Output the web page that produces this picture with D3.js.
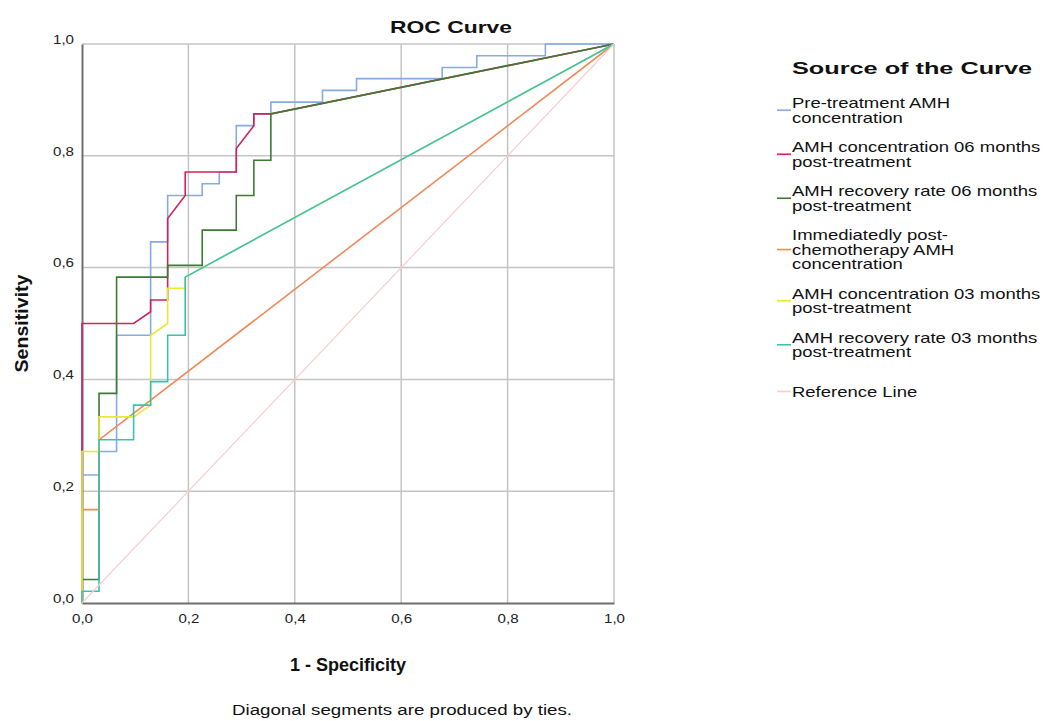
<!DOCTYPE html>
<html>
<head>
<meta charset="utf-8">
<script src="https://cdn.jsdelivr.net/npm/d3@7"></script>
<style>
  body { margin: 0; background: #fff; }
  text { font-family: "Liberation Sans", Arial, sans-serif; fill: #111; }
  .tick text { font-size: 12.5px; fill: #222; }
</style>
</head>
<body>
<div id="chart"></div>
<script>
// series names (legend order = draw order)
var seriesNames = [
  ["Pre-treatment AMH", "concentration"],
  ["AMH concentration 06 months", "post-treatment"],
  ["AMH recovery rate 06 months", "post-treatment"],
  ["Immediatedly post-", "chemotherapy AMH", "concentration"],
  ["AMH concentration 03 months", "post-treatment"],
  ["AMH recovery rate 03 months", "post-treatment"],
  ["Reference Line"]
];
var seriesColors = ["#86abe0", "#d3245a", "#3d7a34", "#f08a5a", "#e8e83c", "#3cc2ac", "#f7cdd0"];

// 1 - specificity values
var preFpr  = [0, 0, .032, .032, .065, .065, .129, .129, .161, .161, .226, .226, .258, .258, .290, .290, .323, .323, .355, .355, .452, .452, .516, .516, .677, .677, .742, .742, .871, .871, 1];
// sensitivity values
var preTpr  = [0, .229, .229, .271, .271, .479, .479, .646, .646, .729, .729, .750, .750, .771, .771, .854, .854, .875, .875, .896, .896, .917, .917, .938, .938, .958, .958, .979, .979, 1, 1];

var c06Fpr = [0, 0, .097, .129, .129, .161, .161, .194, .194, .290, .290, .323, .323, .355, 1];
var c06Tpr = [0, .500, .500, .521, .542, .542, .688, .729, .771, .771, .813, .854, .875, .875, 1];

var r06Fpr = [0, 0, .032, .032, .065, .065, .161, .161, .226, .226, .290, .290, .323, .323, .355, .355, 1];
var r06Tpr = [0, .042, .042, .375, .375, .583, .583, .604, .604, .667, .667, .729, .729, .792, .792, .875, 1];

var immFpr = [0, 0, .032, .032, 1];
var immTpr = [0, .167, .167, .292, 1];

var c03Fpr = [0, 0, .032, .032, .097, .129, .129, .161, .161, .194, .194, 1];
var c03Tpr = [0, .271, .271, .333, .333, .354, .479, .500, .563, .563, .583, 1];

var r03Fpr = [0, 0, .032, .032, .097, .097, .129, .129, .161, .161, .194, .194, 1];
var r03Tpr = [0, .021, .021, .292, .292, .354, .354, .396, .396, .479, .479, .583, 1];

var refFpr = [0, 1];
var refTpr = [0, 1];

var tickValues = [0, 0.2, 0.4, 0.6, 0.8, 1.0];

var fprList = [preFpr, c06Fpr, r06Fpr, immFpr, c03Fpr, r03Fpr, refFpr];
var tprList = [preTpr, c06Tpr, r06Tpr, immTpr, c03Tpr, r03Tpr, refTpr];

var svgWidth = 1048;
var svgHeight = 721;
var margin = { top: 44, left: 82 };
var width = 532;
var height = 559;

var svg = d3.select("#chart")
  .append("svg")
  .attr("width", svgWidth)
  .attr("height", svgHeight);

svg.append("rect").attr("width", svgWidth).attr("height", svgHeight).attr("fill", "#fff");

var chartGroup = svg.append("g")
  .attr("transform", `translate(${margin.left}, ${margin.top})`);

var xScale = d3.scaleLinear().domain([0, 1]).range([0, width]);
var yScale = d3.scaleLinear().domain([0, 1]).range([height, 0]);

var fmt = d => d3.format(".1f")(d).replace(".", ",");

// grid lines
chartGroup.append("g")
  .selectAll("line.vgrid")
  .data(tickValues.slice(1))
  .enter()
  .append("line")
  .attr("x1", d => xScale(d)).attr("x2", d => xScale(d))
  .attr("y1", 0).attr("y2", height)
  .attr("stroke", "#c4c4c4")
  .attr("stroke-width", 1.5);

chartGroup.append("g")
  .selectAll("line.hgrid")
  .data(tickValues.slice(1))
  .enter()
  .append("line")
  .attr("x1", 0).attr("x2", width)
  .attr("y1", d => yScale(d)).attr("y2", d => yScale(d))
  .attr("stroke", "#c4c4c4")
  .attr("stroke-width", 1.5);

// axes
var bottomAxis = d3.axisBottom(xScale).tickValues(tickValues).tickFormat(fmt).tickSize(0).tickPadding(9);
var leftAxis = d3.axisLeft(yScale).tickValues(tickValues).tickFormat(fmt).tickSize(0).tickPadding(8);

var xAxis = chartGroup.append("g")
  .attr("transform", `translate(0, ${height})`)
  .call(bottomAxis);
var yAxis = chartGroup.append("g")
  .call(leftAxis);
xAxis.select(".domain").attr("stroke", "#6e6e6e").attr("stroke-width", 2);
yAxis.select(".domain").attr("stroke", "#6e6e6e").attr("stroke-width", 2);
xAxis.selectAll(".tick text").attr("dy", "0.9em").attr("textLength", 21).attr("lengthAdjust", "spacingAndGlyphs");
yAxis.selectAll(".tick text").attr("dy", "-0.05em").attr("textLength", 21).attr("lengthAdjust", "spacingAndGlyphs");

// curves
var line = d3.line()
  .x(d => xScale(d[0]))
  .y(d => yScale(d[1]));

fprList.forEach(function(fpr, i) {
  var pts = fpr.map((v, j) => [v, tprList[i][j]]);
  chartGroup.append("path")
    .datum(pts)
    .attr("d", line)
    .attr("fill", "none")
    .attr("stroke", seriesColors[i])
    .attr("stroke-width", i === 6 ? 1.2 : 1.6)
    .attr("stroke-linejoin", "miter");
});

// titles
svg.append("text")
  .attr("x", 451)
  .attr("y", 33)
  .attr("text-anchor", "middle")
  .attr("font-size", "17px")
  .attr("font-weight", "bold")
  .attr("textLength", 122)
  .attr("lengthAdjust", "spacingAndGlyphs")
  .text("ROC Curve");

svg.append("text")
  .attr("x", margin.left + width / 2)
  .attr("y", 671)
  .attr("text-anchor", "middle")
  .attr("font-size", "18px")
  .attr("font-weight", "bold")
  .text("1 - Specificity");

svg.append("text")
  .attr("transform", `translate(28, ${margin.top + height / 2}) rotate(-90)`)
  .attr("text-anchor", "middle")
  .attr("font-size", "18px")
  .attr("font-weight", "bold")
  .attr("textLength", 98)
  .attr("lengthAdjust", "spacingAndGlyphs")
  .text("Sensitivity");

svg.append("text")
  .attr("x", 402)
  .attr("y", 715)
  .attr("text-anchor", "middle")
  .attr("font-size", "14px")
  .attr("textLength", 340)
  .attr("lengthAdjust", "spacingAndGlyphs")
  .text("Diagonal segments are produced by ties.");

// legend
var legend = svg.append("g").attr("transform", "translate(777, 0)");
legend.append("text")
  .attr("x", 15)
  .attr("y", 74)
  .attr("font-size", "17px")
  .attr("font-weight", "bold")
  .attr("textLength", 240)
  .attr("lengthAdjust", "spacingAndGlyphs")
  .text("Source of the Curve");

var lineH = 14.5;
var yPos = 108;
seriesNames.forEach(function(lines, i) {
  var g = legend.append("g");
  if (i === seriesNames.length - 1) yPos += 10;
  lines.forEach(function(t, k) {
    g.append("text")
      .attr("transform", `translate(15, ${yPos + k * lineH}) scale(1.32, 1)`)
      .attr("font-size", "14px")
      .text(t);
  });
  var mid = yPos + (lines.length - 1) * lineH / 2 - 5;
  g.append("line")
    .attr("x1", 0).attr("x2", 14)
    .attr("y1", mid).attr("y2", mid)
    .attr("stroke", seriesColors[i])
    .attr("stroke-width", 1.6);
  yPos += lines.length * lineH + 15;
});
</script>
</body>
</html>
